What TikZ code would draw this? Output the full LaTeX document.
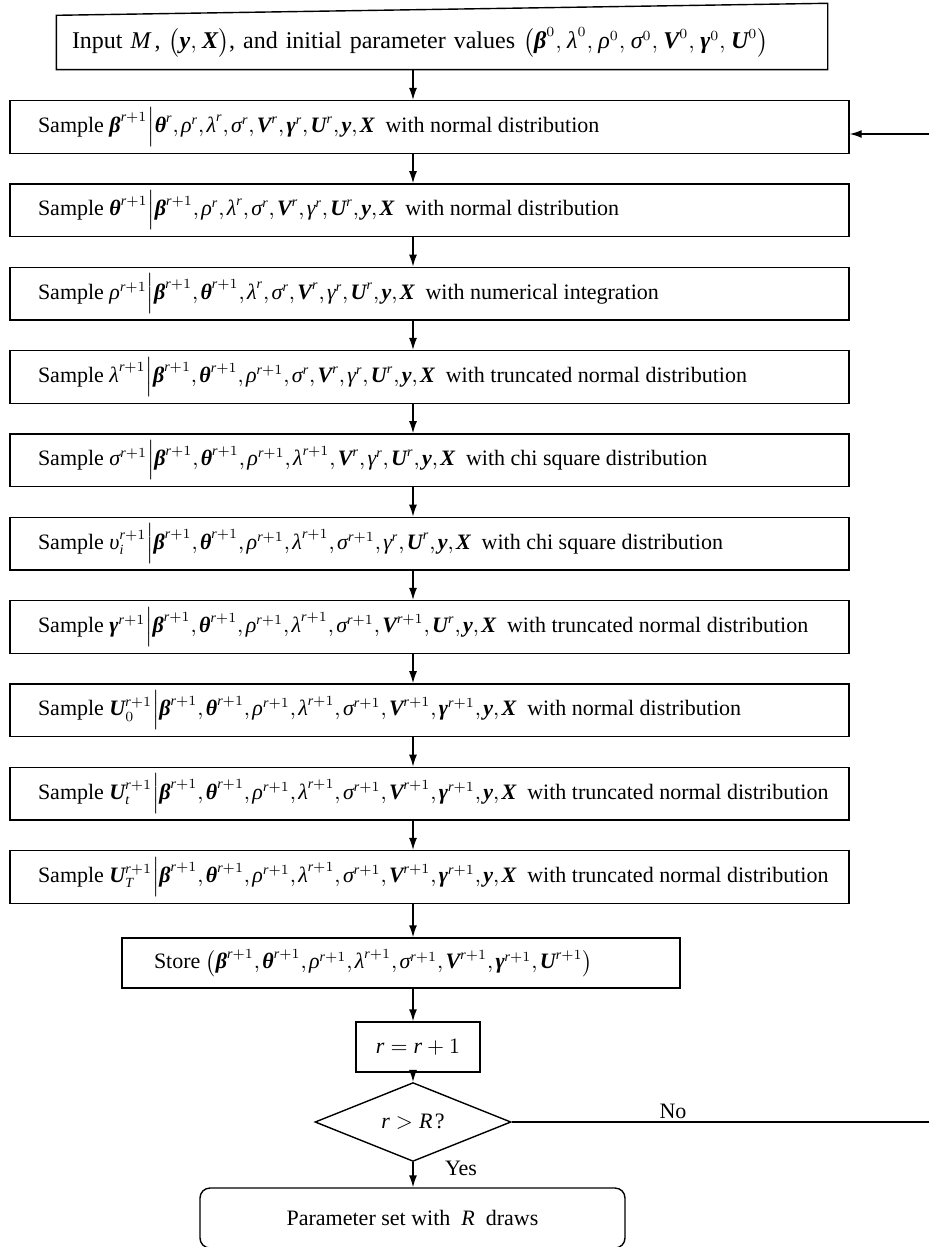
\documentclass[tikz,border=0pt]{standalone}
\usepackage{amsmath}
\usepackage{fontspec}
\setmainfont{Liberation Serif}
\usetikzlibrary{shapes.geometric,arrows.meta,calc}
\DeclareMathSizes{11}{11}{7}{5}
\DeclareMathSizes{12}{12}{7.5}{5.5}

% Times-like symbols taken from the text font
\newcommand{\bv}[1]{\text{\bfseries\itshape #1}}
\newcommand{\iv}[1]{\text{\itshape #1}}
\newcommand{\rp}{^{\iv{r}+1}}
\newcommand{\rc}{^{\iv{r}}}
\newcommand{\given}{\Big|}
\newcommand{\stepline}[1]{\makebox[391.5pt][l]{#1}}

\begin{document}
\begin{tikzpicture}[
  x=0.5pt, y=-0.5pt,
  font=\fontsize{11}{13}\selectfont,
  execute at begin node={\thinmuskip=2mu},
  line width=0.7pt,
  >={Latex[length=6pt,width=4pt]},
  samplebox/.style={draw, inner xsep=14pt, minimum height=25pt},
  flowline/.style={->}
]
\useasboundingbox (0,0) rectangle (928,1247);

% Input box, its top edge is drawn slanted below
\node[font=\fontsize{12}{14}\selectfont, execute at begin node={\thinmuskip=4mu},
      text width=370pt, inner xsep=7.5pt, minimum height=26.5pt, align=left] (in) at (442,42.5)
  {Input $\iv{M}$\,, $\big(\bv{y},\bv{X}\big)$, and initial parameter values
   $\big(\bv{β}^{0},\iv{λ}^{0},\iv{ρ}^{0},\iv{σ}^{0},\bv{V}^{0},\bv{γ}^{0},\bv{U}^{0}\big)$};
\draw (in.south west) -- (in.south east) -- ($(in.north east)+(0,-12)$) -- (in.north west) -- cycle;

% Sampling steps
\node[samplebox] (b1) at (429.5,127)
  {\stepline{Sample $\bv{β}\rp\given\bv{θ}\rc,\iv{ρ}\rc,\iv{λ}\rc,\iv{σ}\rc,\bv{V}\rc,\bv{γ}\rc,\bv{U}\rc,\bv{y},\bv{X}$ \ with normal distribution}};
\node[samplebox] (b2) at (429.5,210.3)
  {\stepline{Sample $\bv{θ}\rp\given\bv{β}\rp,\iv{ρ}\rc,\iv{λ}\rc,\iv{σ}\rc,\bv{V}\rc,\iv{γ}\rc,\bv{U}\rc,\bv{y},\bv{X}$ \ with normal distribution}};
\node[samplebox] (b3) at (429.5,293.7)
  {\stepline{Sample $\iv{ρ}\rp\given\bv{β}\rp,\bv{θ}\rp,\iv{λ}\rc,\iv{σ}\rc,\bv{V}\rc,\iv{γ}\rc,\bv{U}\rc,\bv{y},\bv{X}$ \ with numerical integration}};
\node[samplebox] (b4) at (429.5,377)
  {\stepline{Sample $\iv{λ}\rp\given\bv{β}\rp,\bv{θ}\rp,\iv{ρ}\rp,\iv{σ}\rc,\bv{V}\rc,\iv{γ}\rc,\bv{U}\rc,\bv{y},\bv{X}$ \ with truncated normal distribution}};
\node[samplebox] (b5) at (429.5,460.3)
  {\stepline{Sample $\iv{σ}\rp\given\bv{β}\rp,\bv{θ}\rp,\iv{ρ}\rp,\iv{λ}\rp,\bv{V}\rc,\iv{γ}\rc,\bv{U}\rc,\bv{y},\bv{X}$ \ with chi square distribution}};
\node[samplebox] (b6) at (429.5,543.7)
  {\stepline{Sample $\iv{υ}_{\iv{i}}\rp\given\bv{β}\rp,\bv{θ}\rp,\iv{ρ}\rp,\iv{λ}\rp,\iv{σ}\rp,\iv{γ}\rc,\bv{U}\rc,\bv{y},\bv{X}$ \ with chi square distribution}};
\node[samplebox] (b7) at (429.5,627)
  {\stepline{Sample $\bv{γ}\rp\given\bv{β}\rp,\bv{θ}\rp,\iv{ρ}\rp,\iv{λ}\rp,\iv{σ}\rp,\bv{V}\rp,\bv{U}\rc,\bv{y},\bv{X}$ \ with truncated normal distribution}};
\node[samplebox] (b8) at (429.5,710.3)
  {\stepline{Sample $\bv{U}_{0}\rp\given\bv{β}\rp,\bv{θ}\rp,\iv{ρ}\rp,\iv{λ}\rp,\iv{σ}\rp,\bv{V}\rp,\bv{γ}\rp,\bv{y},\bv{X}$ \ with normal distribution}};
\node[samplebox] (b9) at (429.5,793.7)
  {\stepline{Sample $\bv{U}_{\iv{t}}\rp\given\bv{β}\rp,\bv{θ}\rp,\iv{ρ}\rp,\iv{λ}\rp,\iv{σ}\rp,\bv{V}\rp,\bv{γ}\rp,\bv{y},\bv{X}$ \ with truncated normal distribution}};
\node[samplebox] (b10) at (429.5,877)
  {\stepline{Sample $\bv{U}_{\iv{T}}\rp\given\bv{β}\rp,\bv{θ}\rp,\iv{ρ}\rp,\iv{λ}\rp,\iv{σ}\rp,\bv{V}\rp,\bv{γ}\rp,\bv{y},\bv{X}$ \ with truncated normal distribution}};

% Store, counter and test
\node[draw, inner xsep=16pt, minimum height=25pt] (st) at (401,963)
  {\makebox[247pt][l]{Store $\big(\bv{β}\rp,\bv{θ}\rp,\iv{ρ}\rp,\iv{λ}\rp,\iv{σ}\rp,\bv{V}\rp,\bv{γ}\rp,\bv{U}\rp\big)$}};
\node[draw, minimum width=62pt, minimum height=25pt] (rb) at (418,1047) {$\iv{r}=\iv{r}+1$};
\node[draw, diamond, inner sep=0pt, minimum width=98pt, minimum height=33.5pt] (dm) at (413,1122) {$\iv{r}>\iv{R}\,$?};
\node[draw, rounded corners=5pt, minimum width=212.5pt, minimum height=30pt] (out) at (412.5,1218)
  {Parameter set with \ $\iv{R}$ \ draws};

\node (no) at (673,1111) {No};
\node (yes) at (461,1168) {Yes};

% Arrows down the column
\foreach \a/\b in {in/b1,b1/b2,b2/b3,b3/b4,b4/b5,b5/b6,b6/b7,b7/b8,b8/b9,b9/b10,b10/st,st/rb,rb/dm,dm/out}
  \draw[flowline] (\a.south -| dm) -- (\b.north -| dm);

% Loop back when r is not yet larger than R
\coordinate (fb) at (931,134);
\draw[flowline] (dm.east) -| (fb) -- (b1.east |- fb);

\end{tikzpicture}
\end{document}
